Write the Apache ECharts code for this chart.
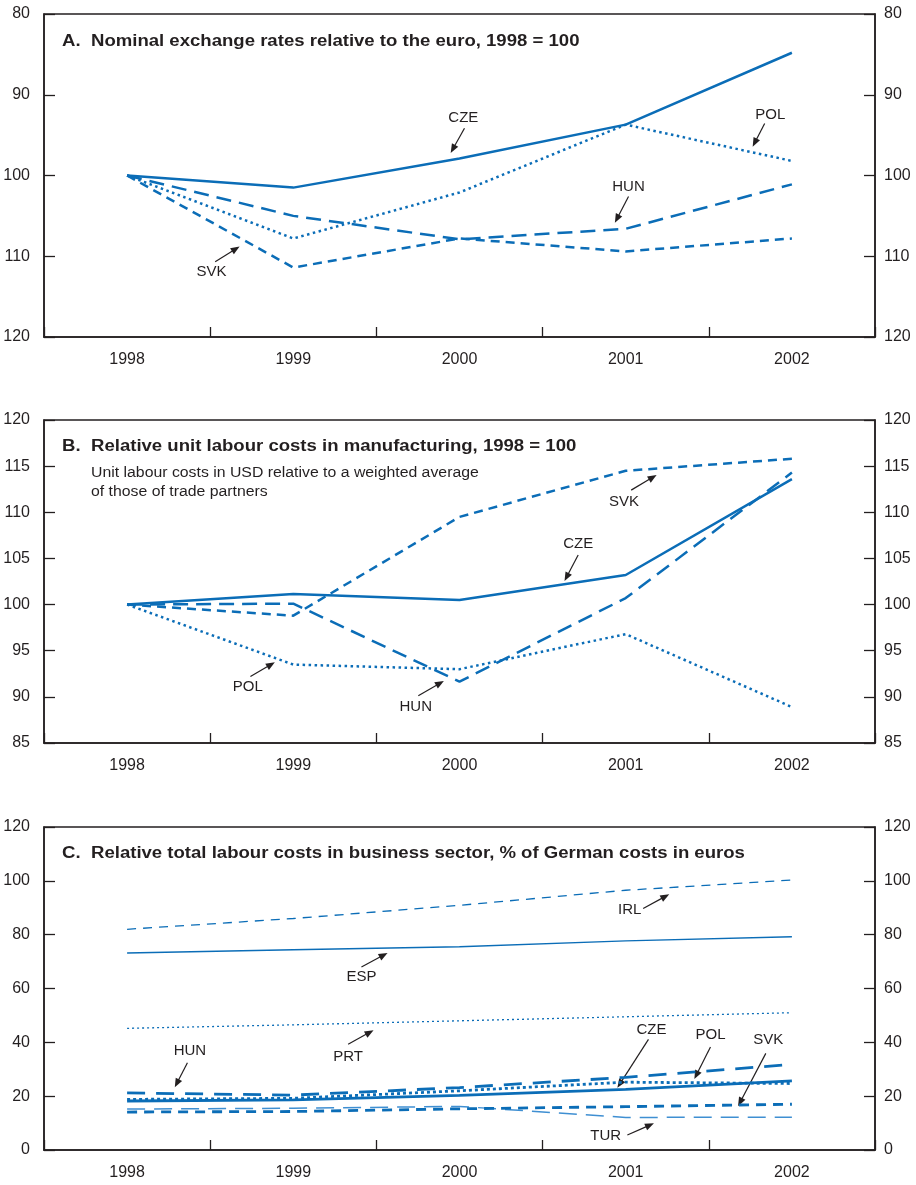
<!DOCTYPE html>
<html><head><meta charset="utf-8">
<script src="https://cdn.jsdelivr.net/npm/echarts@6/dist/echarts.min.js"></script>
<style>html,body{margin:0;padding:0;background:#fff}#c{width:916px;height:1185px}</style>
</head><body><div id="c"></div>
<script>
// ---------- data ----------
const years = ['1998', '1999', '2000', '2001', '2002'];

// Panel A: nominal exchange rates relative to the euro, 1998 = 100 (inverted axis)
const aTicks = [80, 120, 10];
const aCZE = [100, 101.5, 97.9, 93.7, 84.8];
const aPOL = [100, 107.8, 102.1, 93.7, 98.2];
const aHUN = [100, 105.0, 107.9, 106.6, 101.1];
const aSVK = [100, 111.4, 107.8, 109.4, 107.8];

// Panel B: relative unit labour costs in manufacturing, 1998 = 100
const bTicks = [85, 120, 5];
const bCZE = [100, 101.15, 100.5, 103.2, 113.6];
const bSVK = [100, 98.8, 109.5, 114.5, 115.8];
const bHUN = [100, 100.1, 91.65, 100.7, 114.3];
const bPOL = [100, 93.5, 93.0, 96.8, 88.9];

// Panel C: relative total labour costs, % of German costs in euros
const cTicks = [0, 120, 20];
const cIRL = [82.0, 86.0, 90.9, 96.5, 100.3];
const cESP = [73.2, 74.4, 75.5, 77.7, 79.2];
const cPRT = [45.2, 46.5, 48.0, 49.5, 51.0];
const cHUN = [21.2, 20.4, 23.2, 27.0, 31.8];
const cPOL = [18.8, 19.2, 22.0, 25.2, 24.7];
const cCZE = [18.2, 18.6, 20.3, 22.5, 25.7];
const cSVK = [14.1, 14.3, 15.3, 16.1, 17.0];
const cTUR = [15.2, 15.5, 16.2, 12.1, 12.2];

// annotations: label position and arrow, in (category index, value) coordinates
const annA = [
  {t: 'CZE', p: [2.023, 92.8], tail: [2.03, 94.15], head: [1.947, 97.2]},
  {t: 'POL', p: [3.87, 92.5], tail: [3.836, 93.55], head: [3.764, 96.43]},
  {t: 'HUN', p: [3.017, 101.4], tail: [3.017, 102.6], head: [2.935, 105.85]},
  {t: 'SVK', p: [0.508, 111.9], tail: [0.53, 110.67], head: [0.677, 108.8]}
];
const annB = [
  {t: 'SVK', p: [2.99, 111.15], tail: [3.033, 112.4], head: [3.186, 114.04]},
  {t: 'CZE', p: [2.714, 106.56], tail: [2.714, 105.37], head: [2.632, 102.55]},
  {t: 'POL', p: [0.726, 91.1], tail: [0.742, 92.2], head: [0.889, 93.75]},
  {t: 'HUN', p: [1.737, 88.94], tail: [1.752, 90.13], head: [1.906, 91.72]}
];
const annC = [
  {t: 'IRL', p: [3.024, 89.3], tail: [3.105, 89.7], head: [3.262, 95.0]},
  {t: 'ESP', p: [1.41, 64.3], tail: [1.41, 68.0], head: [1.567, 73.2]},
  {t: 'PRT', p: [1.33, 34.6], tail: [1.33, 39.3], head: [1.483, 44.5]},
  {t: 'HUN', p: [0.378, 36.9], tail: [0.363, 32.4], head: [0.287, 23.3]},
  {t: 'CZE', p: [3.155, 44.8], tail: [3.137, 41.1], head: [2.95, 23.1]},
  {t: 'POL', p: [3.51, 42.7], tail: [3.51, 38.3], head: [3.413, 26.35]},
  {t: 'SVK', p: [3.858, 40.8], tail: [3.843, 35.9], head: [3.676, 16.3]},
  {t: 'TUR', p: [2.88, 5.2], tail: [3.01, 5.57], head: [3.17, 9.9]}
];

// ---------- styling ----------
const FONT = '"Liberation Sans", Arial, Helvetica, sans-serif';
const BLUE = '#0b6db7';
const LIGHT = '#3f8fd2';
const INK = '#231f20';

const GRID_TOPS = [14, 420, 827];
const grids = GRID_TOPS.map(t => ({
  left: 44, right: 41, top: t, height: 323,
  show: true, borderColor: INK, borderWidth: 1.5, backgroundColor: 'transparent'
}));

function xAxis(i) {
  return {
    type: 'category', gridIndex: i, data: years, boundaryGap: true,
    axisLine: {show: true, onZero: false, lineStyle: {color: INK, width: 1.6}},
    axisTick: {show: true, inside: true, length: 10, lineStyle: {color: INK, width: 1.3}},
    axisLabel: {color: INK, fontSize: 16, fontFamily: FONT, margin: 15},
    splitLine: {show: false}
  };
}
function yAxis(i, pos, ticks, inverse) {
  return {
    type: 'value', gridIndex: i, position: pos,
    min: ticks[0], max: ticks[1], interval: ticks[2], inverse: !!inverse,
    axisLine: {show: true, lineStyle: {color: INK, width: 1.5}},
    axisTick: {show: true, inside: true, length: 11, lineStyle: {color: INK, width: 1.3}},
    axisLabel: {color: INK, fontSize: 16, fontFamily: FONT, margin: pos === 'left' ? 14 : 9},
    splitLine: {show: false}
  };
}

function line(gi, data, color, width, type) {
  return {
    type: 'line', xAxisIndex: gi, yAxisIndex: 2 * gi, data: data,
    symbol: 'none', silent: true, smooth: false,
    lineStyle: {color: color, width: width, type: type, cap: 'butt'}
  };
}

const LONG = [15, 8], MED = [9, 6], DOT = [2.5, 3.5];

const option = {
  animation: false,
  backgroundColor: '#fff',
  grid: grids,
  xAxis: [xAxis(0), xAxis(1), xAxis(2)],
  yAxis: [
    yAxis(0, 'left', aTicks, true), yAxis(0, 'right', aTicks, true),
    yAxis(1, 'left', bTicks), yAxis(1, 'right', bTicks),
    yAxis(2, 'left', cTicks), yAxis(2, 'right', cTicks)
  ],
  series: [
    line(0, aCZE, BLUE, 2.5, 'solid'),
    line(0, aPOL, BLUE, 2.5, DOT),
    line(0, aHUN, BLUE, 2.5, LONG),
    line(0, aSVK, BLUE, 2.5, MED),

    line(1, bCZE, BLUE, 2.5, 'solid'),
    line(1, bSVK, BLUE, 2.5, MED),
    line(1, bHUN, BLUE, 2.5, LONG),
    line(1, bPOL, BLUE, 2.5, DOT),

    line(2, cIRL, BLUE, 1.3, [9, 7]),
    line(2, cESP, BLUE, 1.4, 'solid'),
    line(2, cPRT, BLUE, 1.3, [2, 3]),
    line(2, cTUR, LIGHT, 1.5, [18, 9]),
    line(2, cSVK, BLUE, 2.8, [10, 7]),
    line(2, cCZE, BLUE, 2.8, 'solid'),
    line(2, cPOL, BLUE, 2.8, [3, 3]),
    line(2, cHUN, BLUE, 2.8, [18, 11])
  ]
};

const chart = echarts.init(document.getElementById('c'), null, {renderer: 'canvas'});
chart.setOption(option);

// ---------- annotations ----------
function toPx(gi, pt) {
  const f = {xAxisIndex: gi, yAxisIndex: 2 * gi};
  const p0 = chart.convertToPixel(f, [0, pt[1]]);
  const p1 = chart.convertToPixel(f, [1, pt[1]]);
  return [p0[0] + (p1[0] - p0[0]) * pt[0], p0[1]];
}

const graphics = [];
function addText(x, y, text, size, bold, align, sx) {
  graphics.push({
    type: 'text', x: x, y: y, silent: true, scaleX: sx || 1,
    style: {
      text: text, fill: INK,
      font: (bold ? 'bold ' : '') + size + 'px ' + FONT,
      align: align || 'left', verticalAlign: 'middle'
    }
  });
}
function addArrow(T, H) {
  const dx = H[0] - T[0], dy = H[1] - T[1];
  const len = Math.sqrt(dx * dx + dy * dy);
  const ux = dx / len, uy = dy / len;
  const L = 9, W = 3.6;
  const bx = H[0] - ux * L, by = H[1] - uy * L;
  graphics.push({
    type: 'line', silent: true,
    shape: {x1: T[0], y1: T[1], x2: bx + ux * 2, y2: by + uy * 2},
    style: {stroke: INK, lineWidth: 1.2}
  });
  graphics.push({
    type: 'polygon', silent: true,
    shape: {points: [[H[0], H[1]], [bx - uy * W, by + ux * W], [bx + uy * W, by - ux * W]]},
    style: {fill: INK}
  });
}
function addAnnotations(gi, list) {
  list.forEach(a => {
    const p = toPx(gi, a.p);
    addText(p[0], p[1], a.t, 15, false, 'center');
    addArrow(toPx(gi, a.tail), toPx(gi, a.head));
  });
}
addAnnotations(0, annA);
addAnnotations(1, annB);
addAnnotations(2, annC);

// panel titles
const TS = 1.16, SS = 1.13;
addText(62, 42, 'A.', 16, true, 'left', TS);
addText(91, 42, 'Nominal exchange rates relative to the euro, 1998 = 100', 16, true, 'left', TS);
addText(62, 447, 'B.', 16, true, 'left', TS);
addText(91, 447, 'Relative unit labour costs in manufacturing, 1998 = 100', 16, true, 'left', TS);
addText(91, 473, 'Unit labour costs in USD relative to a weighted average', 14, false, 'left', SS);
addText(91, 492, 'of those of trade partners', 14, false, 'left', SS);
addText(62, 854, 'C.', 16, true, 'left', TS);
addText(91, 854, 'Relative total labour costs in business sector, % of German costs in euros', 16, true, 'left', TS);

chart.setOption({graphic: {elements: graphics}});
</script>
</body></html>
